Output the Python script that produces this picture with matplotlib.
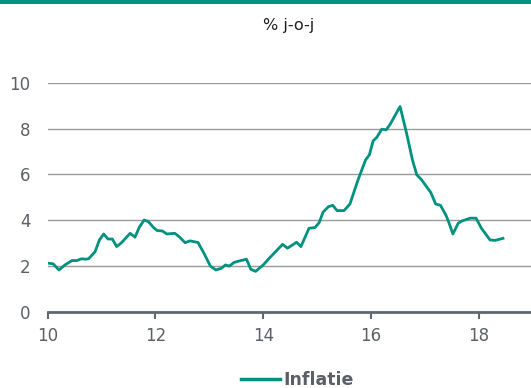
import matplotlib
matplotlib.use("Agg")
import matplotlib.pyplot as plt
from matplotlib.lines import Line2D

# Data (decimal year, % y-o-y)
years = [10.03, 10.10, 10.21, 10.32, 10.45, 10.54, 10.63, 10.70, 10.76, 10.88, 10.96,
         11.04, 11.12, 11.20, 11.28, 11.37, 11.53, 11.62, 11.70, 11.79, 11.87, 11.96,
         12.03, 12.13, 12.21, 12.36, 12.45, 12.55, 12.64, 12.79, 12.90, 13.02, 13.12,
         13.22, 13.30, 13.37, 13.46, 13.55, 13.69, 13.77, 13.86, 14.00, 14.12, 14.36,
         14.45, 14.62, 14.70, 14.85, 14.96, 15.04, 15.11, 15.21, 15.29, 15.37, 15.50,
         15.61, 15.76, 15.90, 15.97, 16.04, 16.11, 16.20, 16.28, 16.35, 16.54, 16.66,
         16.77, 16.85, 16.94, 17.11, 17.20, 17.29, 17.39, 17.45, 17.52, 17.62, 17.68,
         17.84, 17.95, 18.05, 18.21, 18.30, 18.45]
inflatie = [2.12, 2.10, 1.83, 2.05, 2.24, 2.24, 2.32, 2.30, 2.32, 2.63, 3.14,
            3.40, 3.18, 3.18, 2.85, 3.02, 3.43, 3.26, 3.69, 4.01, 3.94, 3.69,
            3.55, 3.53, 3.40, 3.43, 3.26, 3.02, 3.10, 3.03, 2.56, 2.00, 1.83,
            1.90, 2.05, 2.00, 2.16, 2.22, 2.30, 1.86, 1.77, 2.05, 2.36, 2.95,
            2.78, 3.04, 2.85, 3.65, 3.68, 3.90, 4.35, 4.59, 4.65, 4.42, 4.42,
            4.71, 5.76, 6.63, 6.85, 7.46, 7.62, 7.97, 7.94, 8.16, 8.96, 7.80,
            6.63, 5.98, 5.76, 5.21, 4.71, 4.65, 4.23, 3.87, 3.40, 3.87, 3.96,
            4.09, 4.09, 3.65, 3.14, 3.12, 3.21]
x_ticks = [10, 12, 14, 16, 18]
y_ticks = [0, 2, 4, 6, 8, 10]

teal = "#00917f"
txt = "#5a6066"

fig = plt.figure(figsize=(5.31, 3.88), dpi=100)
ax = fig.add_axes([0.0898, 0.196, 0.9102, 0.591])

ax.plot(years, inflatie, color=teal, lw=2.0, solid_joinstyle="round")
ax.set_xlim(10, 18.97)
ax.set_ylim(0, 10)
ax.set_xticks(x_ticks)
ax.set_xticklabels([str(t) for t in x_ticks])
ax.set_yticks(y_ticks)
ax.grid(axis="y", color="#9a9a9a", lw=1.0)
ax.set_axisbelow(True)
for s in ["top", "right", "left"]:
    ax.spines[s].set_visible(False)
ax.spines["bottom"].set_color("#5d6870")
ax.spines["bottom"].set_linewidth(2.0)
ax.tick_params(axis="x", colors="#5d6870", length=5, width=1.5, labelsize=12,
               labelcolor=txt, pad=6)
ax.tick_params(axis="y", length=0, labelsize=12, labelcolor=txt, pad=12.5)

# Top bar
fig.add_artist(plt.Rectangle((0, 0.99), 1, 0.01, color=teal, transform=fig.transFigure, lw=0))

fig.text(0.543, 0.933, "% j-o-j", ha="center", va="center", fontsize=11.6, color="#1e1e1e")

leg = ax.legend(handles=[Line2D([], [], color=teal, lw=2.5)], labels=["Inflatie"],
                loc="center", bbox_to_anchor=(0.56, 0.02), bbox_transform=fig.transFigure,
                frameon=False, handlelength=2.2, handletextpad=0.2,
                prop={"weight": "bold", "size": 12.5})
for t in leg.get_texts():
    t.set_color(txt)

fig.savefig("out.png", dpi=100)
